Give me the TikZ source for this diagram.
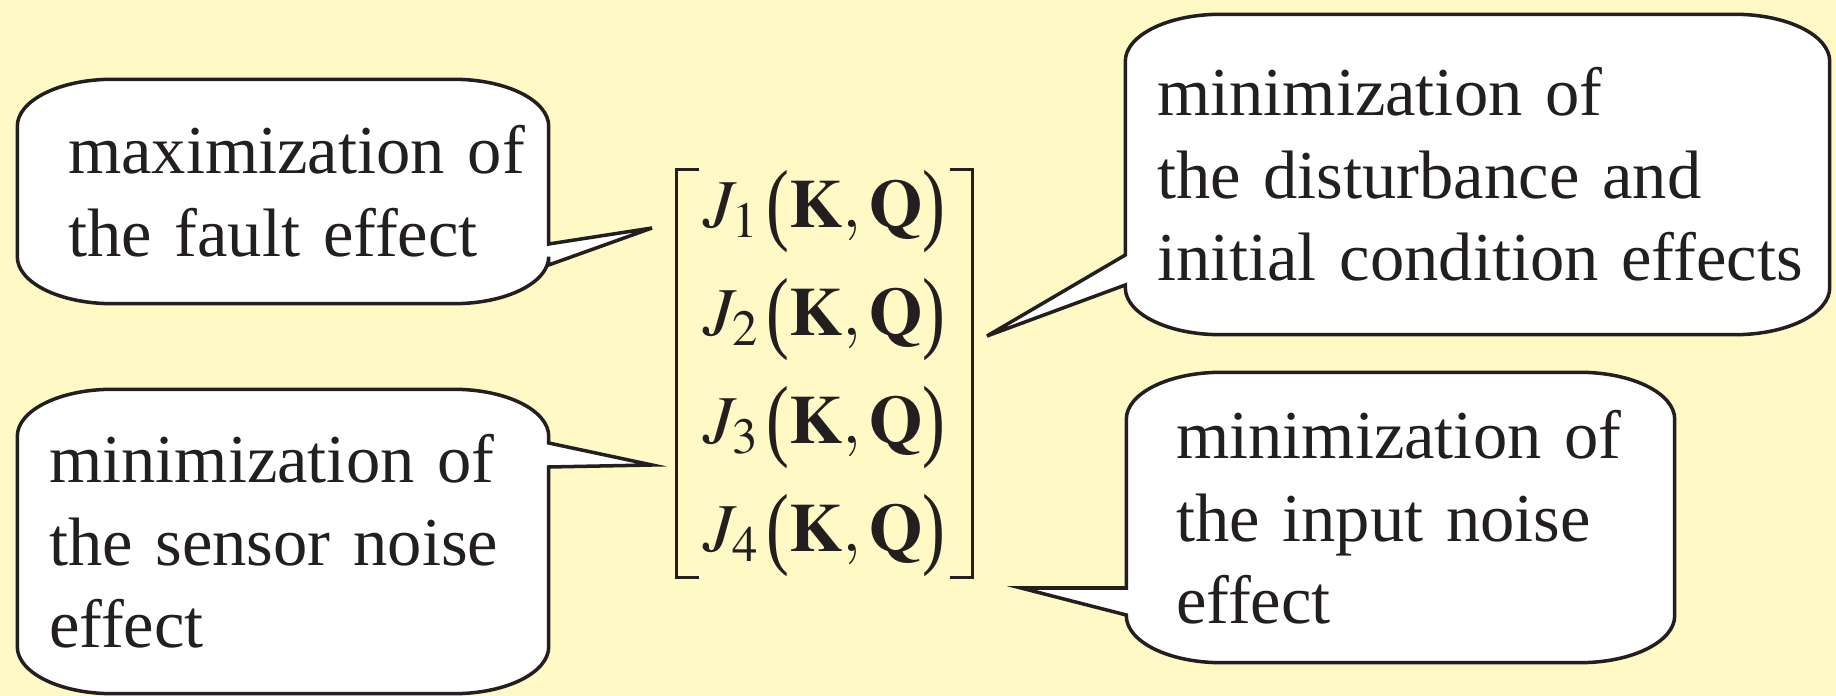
\documentclass[tikz,border=0pt]{standalone}
\usepackage{amsmath}
\usepackage{mathptmx}
\usepackage{fontspec}
\setmainfont{Liberation Serif}[WordSpace=0.8]
\usepackage{xcolor}
\usepackage{tikz}
\usetikzlibrary{positioning, calc, backgrounds}
\definecolor{FigPaper}{RGB}{255, 250, 197}
\definecolor{FigInk}{RGB}{35, 31, 32}
\newcommand{\cornerx}{0.95cm}
\newcommand{\cornery}{0.47cm}
\newcommand{\bigparl}{\kern2pt\raisebox{-1.7pt}{\scalebox{1}[1.33]{(}}}
\newcommand{\bigparr}{\raisebox{-1.7pt}{\scalebox{1}[1.33]{)}}}
\tikzset{
  bubble/.style={draw=FigInk, fill=white, line width=1pt, line join=miter},
  bubbletext/.style={align=left, inner ysep=0pt, text=FigInk,
    font=\fontsize{19.5}{23.5}\selectfont},
}

\begin{document}
\begin{tikzpicture}
    \useasboundingbox (0,0) rectangle (18.36,6.96);
    % callout texts
    \node[bubbletext, minimum width=5.30cm, minimum height=2.23cm, text width=4.30cm, inner xsep=0.50cm]
      (fault) at (2.83,5.045) {\mbox{maximization of}\\\mbox{the fault effect}};
    \node[bubbletext, minimum width=5.30cm, minimum height=3.03cm, text width=4.68cm, inner xsep=0.31cm]
      (sensor) at (2.83,1.545) {\mbox{minimization of}\\\mbox{the sensor noise}\\effect};
    \node[bubbletext, minimum width=7.03cm, minimum height=3.19cm, text width=6.41cm, inner xsep=0.31cm]
      (disturb) at (14.775,5.215) {\mbox{minimization of}\\\mbox{the disturbance and}\\\mbox{initial condition effects}};
    \node[bubbletext, minimum width=5.47cm, minimum height=2.89cm, text width=4.49cm, inner xsep=0.49cm]
      (input) at (14.005,1.785) {\mbox{minimization of}\\\mbox{the input noise}\\effect};

    % cost vector
    \node[text=FigInk, align=center, inner sep=0pt, minimum width=2.95cm, minimum height=4.03cm,
          font=\fontsize{19.5}{30.7}\selectfont] (cost) at (8.245,3.225) {
      $J_1$\bigparl$\mathbf{K},\mathbf{Q}$\bigparr\\
      $J_2$\bigparl$\mathbf{K},\mathbf{Q}$\bigparr\\
      $J_3$\bigparl$\mathbf{K},\mathbf{Q}$\bigparr\\
      $J_4$\bigparl$\mathbf{K},\mathbf{Q}$\bigparr
    };
    \draw[FigInk, line width=1pt] ([xshift=0.23cm]cost.north west) -- (cost.north west)
      -- (cost.south west) -- ([xshift=0.23cm]cost.south west);
    \draw[FigInk, line width=1pt] ([xshift=-0.23cm]cost.north east) -- (cost.north east)
      -- (cost.south east) -- ([xshift=-0.23cm]cost.south east);

    % pointer ends
    \coordinate (faultUp) at (0,4.52);
    \coordinate (faultLo) at (0,4.31);
    \coordinate (faultTip) at (6.52,4.68);
    \coordinate (sensorUp) at (0,2.53);
    \coordinate (sensorLo) at (0,2.29);
    \coordinate (sensorTip) at (6.52,2.31);
    \coordinate (disturbUp) at (0,4.41);
    \coordinate (disturbLo) at (0,4.11);
    \coordinate (disturbTip) at (9.87,3.60);
    \coordinate (inputUp) at (0,1.08);
    \coordinate (inputLo) at (0,0.81);
    \coordinate (inputTip) at (10.21,1.08);

    \begin{scope}[on background layer]
      \fill[FigPaper] (0,0) rectangle (18.36,6.96);
      % pointer on the right side
      \foreach \b in {fault, sensor} {
        \draw[bubble] ([xshift=\cornerx]\b.north west) -- ([xshift=-\cornerx]\b.north east)
          arc[start angle=90, end angle=0, x radius=\cornerx, y radius=\cornery]
          -- (\b.east |- \b Up) -- (\b Tip) -- (\b.east |- \b Lo)
          -- ([yshift=\cornery]\b.south east)
          arc[start angle=0, end angle=-90, x radius=\cornerx, y radius=\cornery]
          -- ([xshift=\cornerx]\b.south west)
          arc[start angle=270, end angle=180, x radius=\cornerx, y radius=\cornery]
          -- ([yshift=-\cornery]\b.north west)
          arc[start angle=180, end angle=90, x radius=\cornerx, y radius=\cornery]
          -- cycle;
      }
      % pointer on the left side
      \foreach \b in {disturb, input} {
        \draw[bubble] ([xshift=\cornerx]\b.north west) -- ([xshift=-\cornerx]\b.north east)
          arc[start angle=90, end angle=0, x radius=\cornerx, y radius=\cornery]
          -- ([yshift=\cornery]\b.south east)
          arc[start angle=0, end angle=-90, x radius=\cornerx, y radius=\cornery]
          -- ([xshift=\cornerx]\b.south west)
          arc[start angle=270, end angle=180, x radius=\cornerx, y radius=\cornery]
          -- (\b.west |- \b Lo) -- (\b Tip) -- (\b.west |- \b Up)
          -- ([yshift=-\cornery]\b.north west)
          arc[start angle=180, end angle=90, x radius=\cornerx, y radius=\cornery]
          -- cycle;
      }
    \end{scope}
\end{tikzpicture}
\end{document}
